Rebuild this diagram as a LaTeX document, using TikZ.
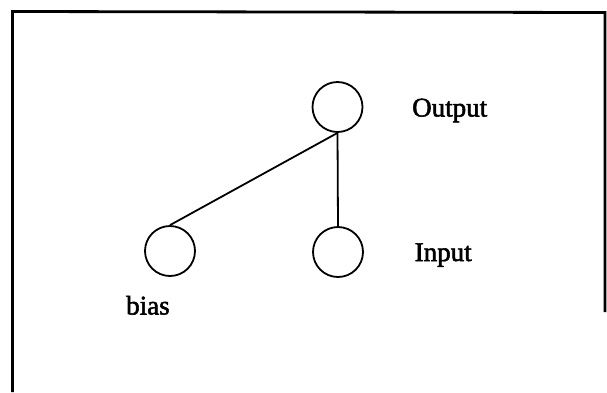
\documentclass[tikz,border=0pt]{standalone}
\usepackage{fontspec}
\setmainfont{Liberation Serif}
\newfontfamily\scanfont[FakeBold=2]{Liberation Serif}
\begin{document}
\begin{tikzpicture}[x=1pt, y=-1pt,
	neuron/.style={draw, circle, line width=1.8pt, minimum size=50pt, inner sep=0pt},
	lbl/.style={inner sep=0pt, anchor=base west, font=\scanfont\fontsize{27}{32}\selectfont}]
	\useasboundingbox (0,0) rectangle (607,392);
	\draw[line width=2.8pt] (12.5,392) -- (12.5,11.5) -- (605,12.5) -- (605,312);
	\node[neuron] (out) at (337.5,107) {};
	\node[neuron] (bias) at (170,251) {};
	\node[neuron] (in) at (338,252) {};
	\draw[line width=1.8pt] (out.south) -- (bias.north);
	\draw[line width=1.8pt] (out.south) -- (in.north);
	\node[lbl] (outlbl) at (412,116.5) {Output};
	\node[lbl] (inlbl) at (414.5,261) {Input};
	\node[lbl] (biaslbl) at (126,314.5) {bias};
\end{tikzpicture}
\end{document}
